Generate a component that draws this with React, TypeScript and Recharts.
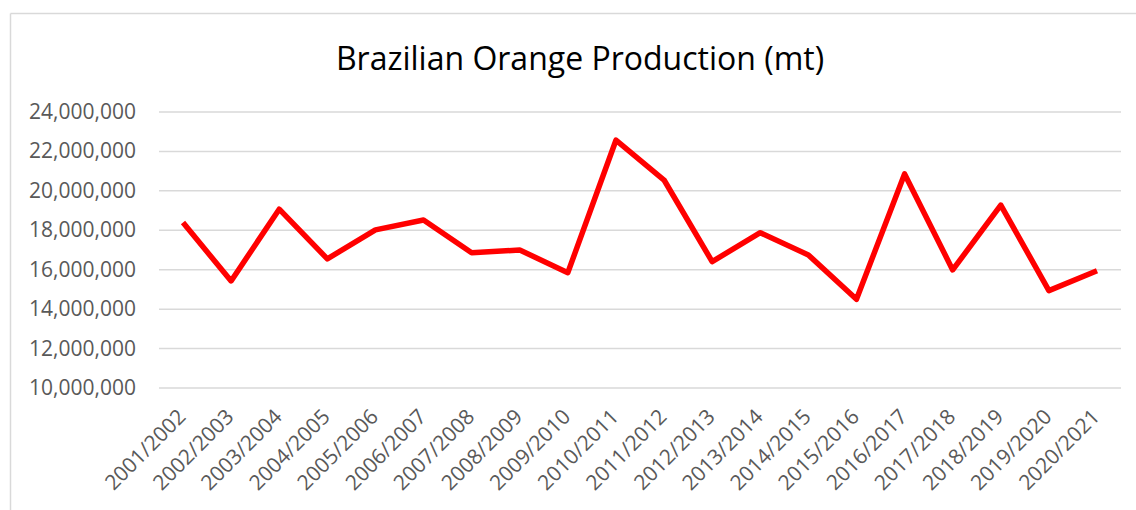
import React from "react";
import { LineChart, Line, XAxis, YAxis, CartesianGrid } from "recharts";

const seasons = [
  "2001/2002", "2002/2003", "2003/2004", "2004/2005", "2005/2006",
  "2006/2007", "2007/2008", "2008/2009", "2009/2010", "2010/2011",
  "2011/2012", "2012/2013", "2013/2014", "2014/2015", "2015/2016",
  "2016/2017", "2017/2018", "2018/2019", "2019/2020", "2020/2021",
];

const production = [
  18390000, 15430000, 19070000, 16550000, 18020000,
  18520000, 16860000, 17000000, 15850000, 22570000,
  20550000, 16410000, 17880000, 16750000, 14500000,
  20860000, 15990000, 19280000, 14940000, 15950000,
];

const yTicks = [10000000, 12000000, 14000000, 16000000, 18000000, 20000000, 22000000, 24000000];

const title = "Brazilian Orange Production (mt)";

const data = seasons.map((s, i) => ({ season: s, value: production[i] }));

const FONT = "'Open Sans', sans-serif";
const TICK_COLOR = "#595959";

const XTick = (props: any) => {
  const { x, y, payload } = props;
  return (
    <text
      x={x + 4}
      y={y + 22}
      transform={`rotate(-45, ${x + 4}, ${y + 22})`}
      textAnchor="end"
      fill={TICK_COLOR}
      fontFamily={FONT}
      fontSize={21}
    >
      {payload.value}
    </text>
  );
};

const YTick = (props: any) => {
  const { x, y, payload } = props;
  return (
    <text
      x={x}
      y={y}
      dy={7}
      textAnchor="end"
      fill={TICK_COLOR}
      fontFamily={FONT}
      fontSize={21}
    >
      {Number(payload.value).toLocaleString("en-US")}
    </text>
  );
};

export default function App() {
  return (
    <div style={{ position: "absolute", left: 0, top: 0, width: 1136, height: 510, background: "#fff", overflow: "hidden" }}>
      <svg width={1136} height={510} style={{ position: "absolute", left: 0, top: 0 }}>
        <line x1={10.5} y1={13.5} x2={1136} y2={13.5} stroke="#d9d9d9" strokeWidth={1.5} />
        <line x1={10.5} y1={13.5} x2={10.5} y2={510} stroke="#d9d9d9" strokeWidth={1.5} />
        <text x={580} y={70} textAnchor="middle" fontFamily={FONT} fontSize={32} fill="#000">
          {title}
        </text>
      </svg>
      <div style={{ position: "absolute", left: 0, top: 0 }}>
        <LineChart
          width={1136}
          height={510}
          data={data}
          margin={{ top: 112, right: 15, bottom: 0, left: 0 }}
        >
          <CartesianGrid horizontal vertical={false} stroke="#d9d9d9" strokeWidth={1.5} />
          <XAxis
            dataKey="season"
            interval={0}
            height={122}
            axisLine={false}
            tickLine={false}
            tickSize={6}
            tickMargin={2}
            padding={{ left: 24, right: 24 }}
            tick={<XTick />}
          />
          <YAxis
            domain={[10000000, 24000000]}
            ticks={yTicks}
            width={159}
            axisLine={false}
            tickLine={false}
            tickSize={0}
            tickMargin={23}
            tick={<YTick />}
          />
          <Line
            type="linear"
            dataKey="value"
            stroke="#ff0000"
            strokeWidth={5.5}
            dot={false}
            activeDot={false}
            strokeLinejoin="round"
            isAnimationActive={false}
          />
        </LineChart>
      </div>
    </div>
  );
}
